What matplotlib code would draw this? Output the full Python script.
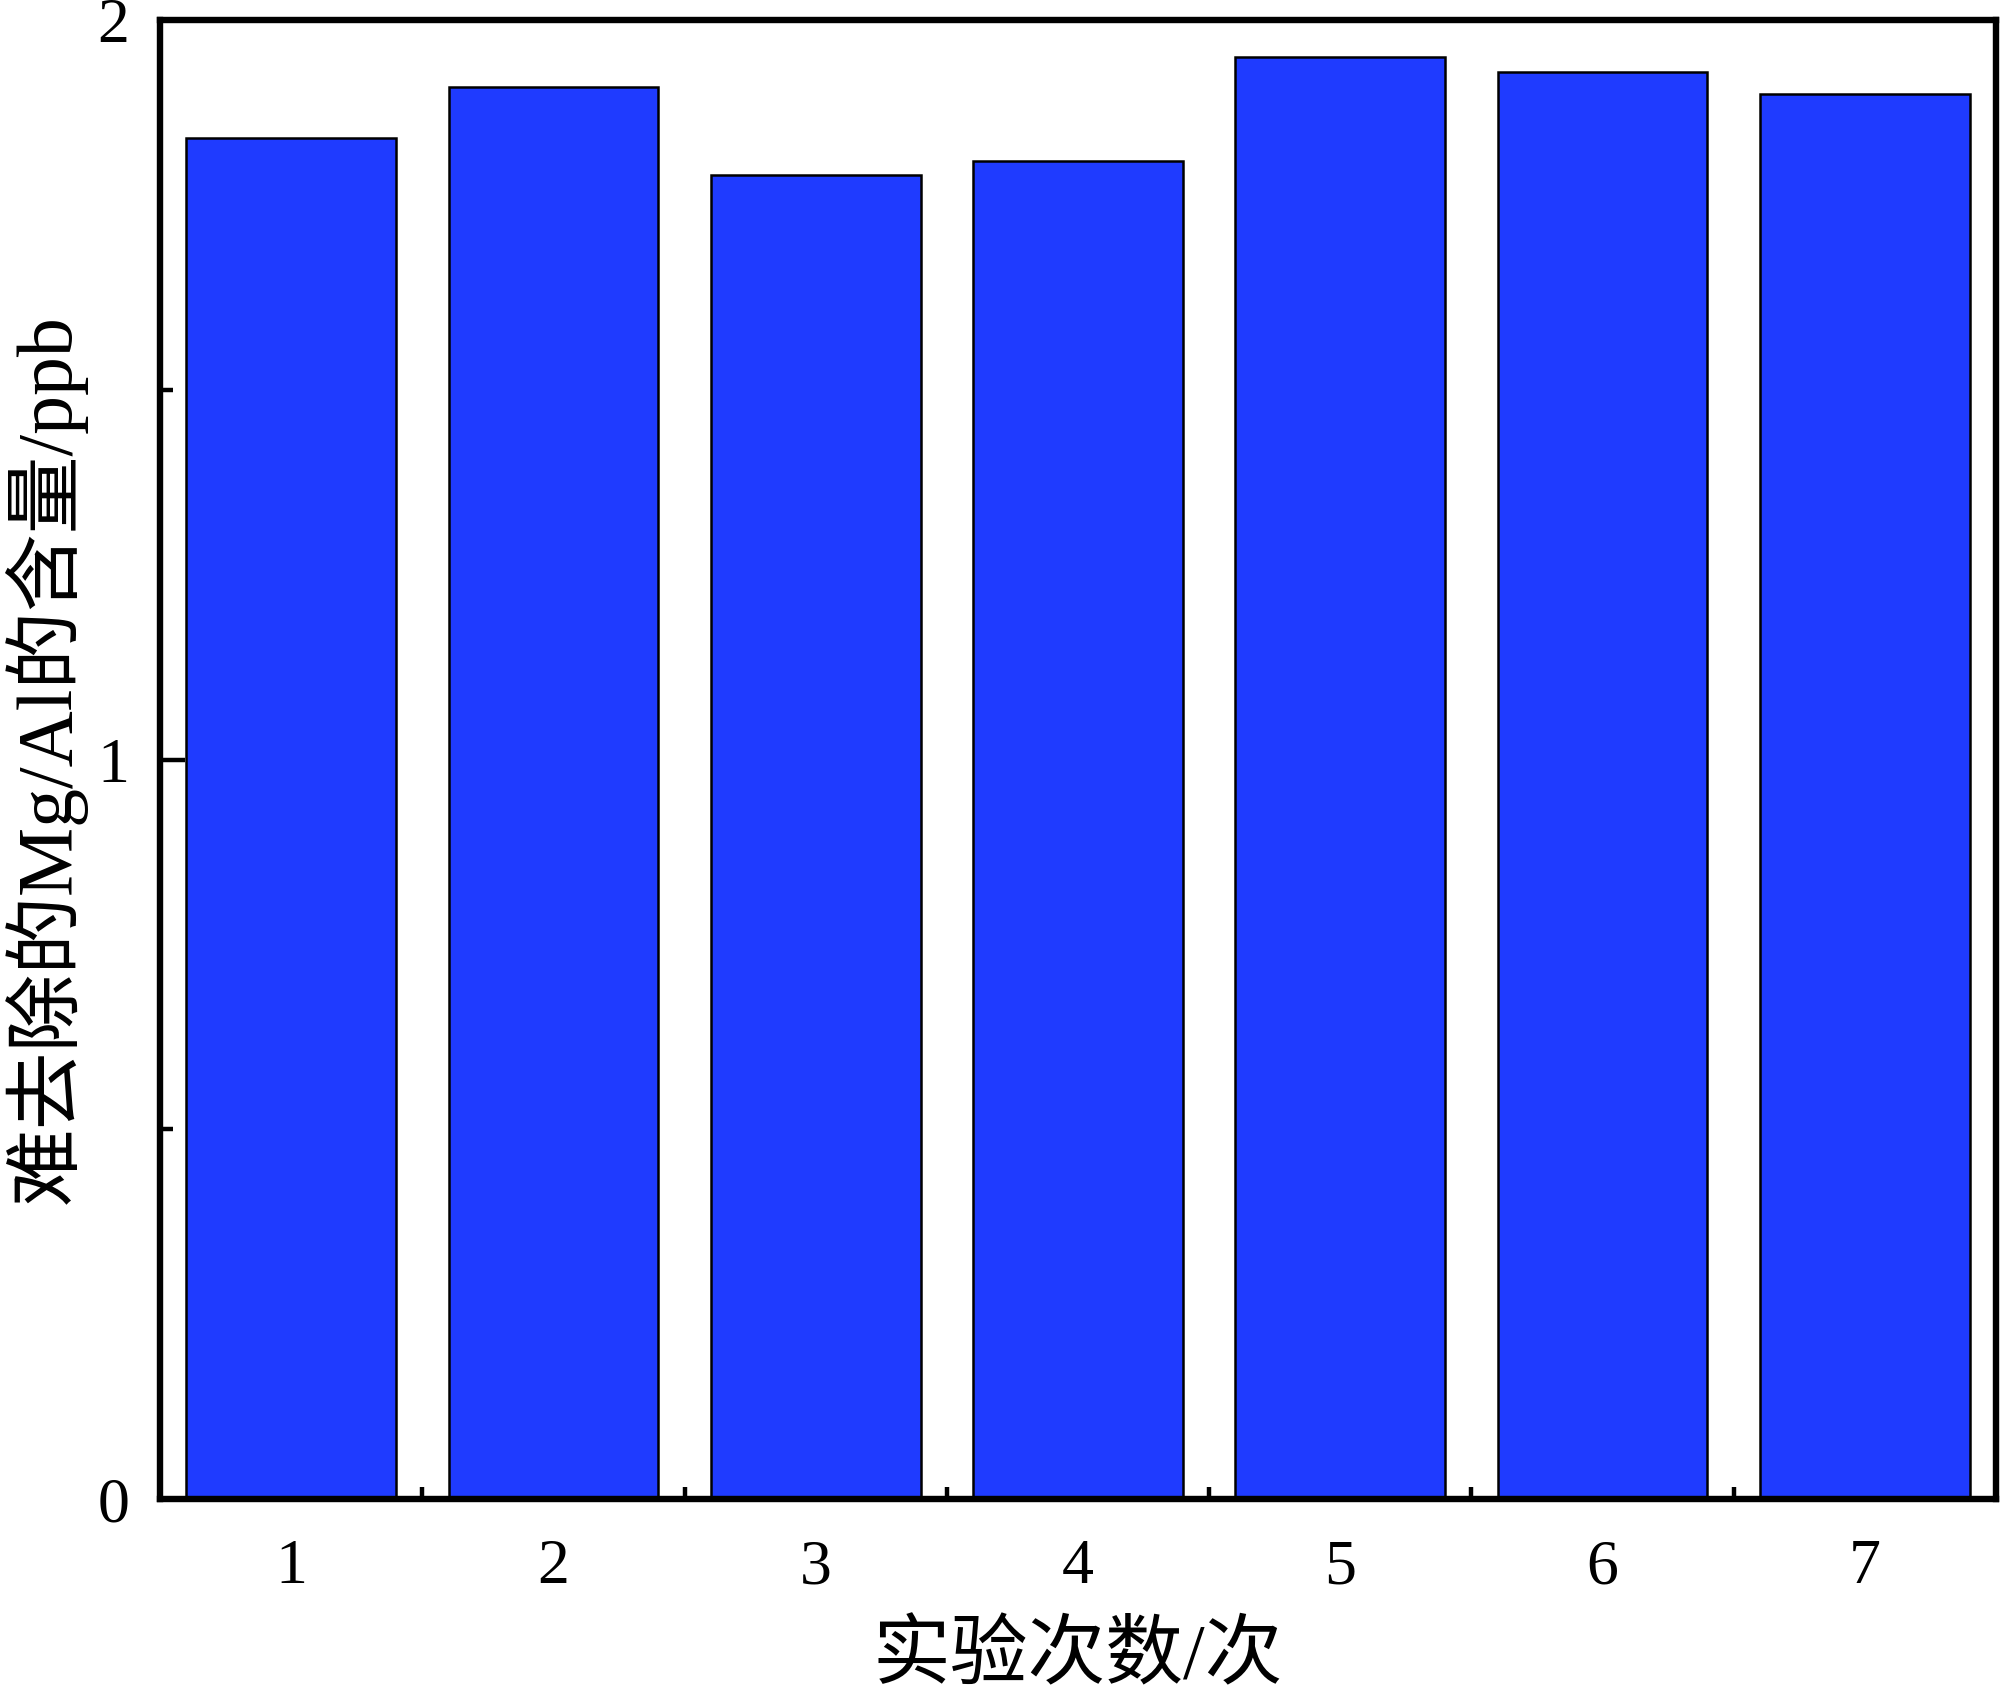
import matplotlib
matplotlib.use("Agg")
import matplotlib.pyplot as plt
from matplotlib.ticker import MultipleLocator, FixedLocator

plt.rcParams['font.family'] = ['Liberation Serif', 'Noto Sans CJK SC']

runs = [1, 2, 3, 4, 5, 6, 7]
values = [1.84, 1.91, 1.79, 1.81, 1.95, 1.93, 1.90]
ytick_vals = [0, 1, 2]
ytick_labels = ['0', '1', '2']
xlabel = '实验次数/次'
ylabel = '难去除的Mg/Al的含量/ppb'

fig = plt.figure(figsize=(20, 16.95), dpi=100)
ax = fig.add_axes([0.08, 0.1156, 0.918, 0.8726])

ax.bar(runs, values, width=0.8, color='#1F3BFF', edgecolor='black', linewidth=1.8, zorder=2)

ax.set_xlim(0.5, 7.5)
ax.set_ylim(0, 2)
ax.set_xticks(runs)
ax.set_xticklabels([str(r) for r in runs])
ax.xaxis.set_minor_locator(FixedLocator([r + 0.5 for r in runs[:-1]]))
ax.set_yticks(ytick_vals)
ax.set_yticklabels(ytick_labels)
ax.yaxis.set_minor_locator(MultipleLocator(0.5))

for s in ax.spines.values():
    s.set_linewidth(4.6)
    s.set_zorder(3)

ax.tick_params(axis='both', which='major', direction='in', length=18, width=3.2,
               labelsize=46, zorder=4)
ax.tick_params(axis='both', which='minor', direction='in', length=9, width=3.2)
ax.tick_params(axis='x', which='both', top=False, pad=29)
ax.tick_params(axis='y', which='both', right=False, pad=22)
for t in ax.xaxis.get_major_ticks() + ax.yaxis.get_major_ticks():
    t.tick1line.set_zorder(4)

ax.set_xlabel(xlabel, fontsize=56)
ax.set_ylabel(ylabel, fontsize=56)
ax.xaxis.label.set_va('center')
ax.xaxis.set_label_coords(0.5, -0.1085)
ax.yaxis.label.set_va('center')
ax.yaxis.set_label_coords(-0.0626, 0.5)

fig.savefig('out.png', dpi=100)
